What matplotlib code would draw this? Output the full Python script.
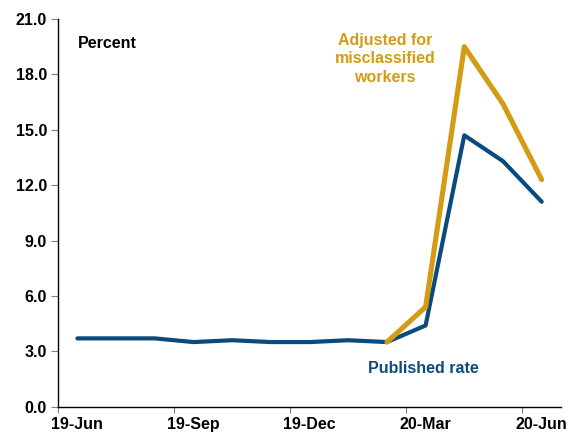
import matplotlib
matplotlib.use("Agg")
import matplotlib.pyplot as plt
import numpy as np

plt.rcParams['font.family'] = ['Liberation Sans', 'DejaVu Sans']

months = ["19-Jun", "19-Jul", "19-Aug", "19-Sep", "19-Oct", "19-Nov", "19-Dec",
          "20-Jan", "20-Feb", "20-Mar", "20-Apr", "20-May", "20-Jun"]
published = [3.7, 3.7, 3.7, 3.5, 3.6, 3.5, 3.5, 3.6, 3.5, 4.4, 14.7, 13.3, 11.1]
# adjusted series begins in Feb 2020
adjusted_months = ["20-Feb", "20-Mar", "20-Apr", "20-May", "20-Jun"]
adjusted = [3.5, 5.4, 19.5, 16.4, 12.3]
tick_labels = ["19-Jun", "19-Sep", "19-Dec", "20-Mar", "20-Jun"]
y_ticks = [0.0, 3.0, 6.0, 9.0, 12.0, 15.0, 18.0, 21.0]

BLUE = "#0b4a7c"
GOLD = "#d49c14"
FS = 11.5

fig = plt.figure(figsize=(5.69, 4.32), dpi=100)
ax = fig.add_axes([0.102, 0.0586, 0.884, 0.8974])

x_pub = np.arange(len(months))
x_adj = np.array([months.index(m) for m in adjusted_months])

ax.plot(x_pub, published, color=BLUE, lw=3.0, solid_capstyle='round',
        solid_joinstyle='round', zorder=3)
ax.plot(x_adj, adjusted, color=GOLD, lw=3.7, solid_capstyle='round',
        solid_joinstyle='round', zorder=4)

ax.set_xlim(-0.5, len(months) - 0.5)
ax.set_ylim(0, 21)

# category boundaries carry the tick marks, labels sit on the category centres
ax.set_xticks(np.arange(-0.5, len(months), 3))
ax.set_xticklabels([])
ax.tick_params(axis='x', which='major', length=4, width=0.8, color='#7f7f7f',
               direction='out')
for lab in tick_labels:
    ax.text(months.index(lab), -0.55, lab, ha='center', va='top',
            fontsize=FS, fontweight='bold', color='black',
            transform=ax.transData, clip_on=False)

ax.set_yticks(y_ticks)
ax.set_yticklabels([f"{v:.1f}" for v in y_ticks], fontsize=FS, fontweight='bold')
ax.tick_params(axis='y', length=5, width=0.8, color='#7f7f7f', pad=3)

for side in ('top', 'right'):
    ax.spines[side].set_visible(False)
for side in ('left', 'bottom'):
    ax.spines[side].set_linewidth(1.0)
    ax.spines[side].set_color('black')

ax.text(0.0, 19.7, "Percent", ha='left', va='center', fontsize=FS,
        fontweight='bold', color='black')
ax.text(7.95, 18.85, "Adjusted for\nmisclassified\nworkers", ha='center',
        va='center', fontsize=FS, fontweight='bold', color=GOLD,
        linespacing=1.3)
ax.text(8.95, 2.05, "Published rate", ha='center', va='center', fontsize=FS,
        fontweight='bold', color=BLUE)

fig.savefig("out.png", dpi=100)
